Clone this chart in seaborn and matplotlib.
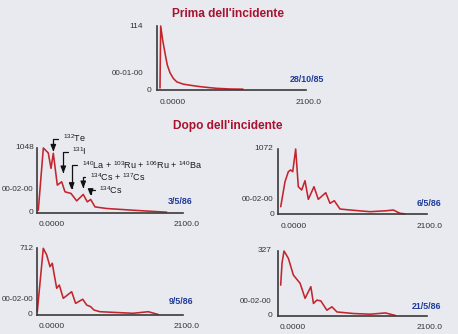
import matplotlib
matplotlib.use("Agg")
import matplotlib.pyplot as plt
import seaborn as sns
import pandas as pd

# ---- spectra (channel 0 .. 2100, counts) ----
before_x = [38, 48, 76, 109, 141, 180, 227, 275, 364, 463, 604, 746, 840, 1029, 1213]
before_y = [4, 114, 89, 66, 45, 31, 21, 15, 11, 9, 6.5, 4.6, 3.5, 2.3, 2]

may03_x = [23, 95, 166, 205, 238, 295, 358, 405, 491, 573, 667, 725, 773, 835, 1002, 1379, 1622, 1862]
may03_y = [37, 1048, 967, 717, 962, 445, 499, 336, 310, 189, 293, 173, 212, 91, 65, 37, 21, 5]

may06_x = [34, 95, 142, 175, 204, 246, 283, 331, 378, 425, 505, 566, 671, 732, 792, 873, 1014, 1298, 1534, 1627, 1721, 1790]
may06_y = [120, 533, 698, 726, 698, 1072, 450, 396, 549, 242, 450, 242, 351, 176, 219, 82, 66, 38, 54, 66, 12, 3]

may09_x = [11, 97, 146, 193, 226, 250, 289, 326, 383, 503, 560, 661, 718, 775, 822, 908, 1380, 1599, 1742]
may09_y = [30, 712, 640, 514, 551, 443, 282, 317, 174, 245, 120, 164, 102, 84, 48, 30, 13, 30, 0]

may21_x = [42, 61, 89, 150, 221, 316, 386, 467, 504, 552, 608, 693, 764, 835, 1070, 1306, 1518, 1589, 1660]
may21_y = [154, 266, 327, 290, 205, 163, 87, 146, 61, 78, 74, 27, 44, 18, 10, 6.6, 13, 6.6, 0]

peak_counts = [114, 1048, 1072, 712, 327]
dates = ["28/10/85", "3/5/86", "6/5/86", "9/5/86", "21/5/86"]
time_labels = ["00-01-00", "00-02-00", "00-02-00", "00-02-00", "00-02-00"]
time_label_levels = [29, 377, 242, 156, 73.5]
x_range = [0.0, 2100.0]
x_tick_labels = ["0.0000", "2100.0"]

# nuclide annotations on the 3/5/86 spectrum: label, arrow tip (x, y), label (x, y)
nuclides = [r"$^{132}$Te", r"$^{131}$I",
            r"$^{140}$La + $^{103}$Ru + $^{106}$Ru + $^{140}$Ba",
            r"$^{134}$Cs + $^{137}$Cs", r"$^{134}$Cs"]
nuclide_tip_x = [238, 381, 501, 667, 773]
nuclide_tip_y = [988, 637, 366, 393, 268]
nuclide_label_x = [370, 510, 650, 765, 898]
nuclide_label_y = [1200, 990, 775, 575, 370]

titles = ["Prima dell'incidente", "Dopo dell'incidente"]

# ---- style ----
BG = "#e8eaf0"
RED = "#c4242c"
TITLE = "#a8122e"
BLUE = "#1f3a98"
AXIS = "#3a3a3a"
TEXT = "#333333"

sns.set_style("white")
plt.rcParams["font.family"] = ["Liberation Sans", "DejaVu Sans"]
plt.rcParams["mathtext.fontset"] = "custom"
plt.rcParams["mathtext.rm"] = "Liberation Sans"
plt.rcParams["mathtext.it"] = "Liberation Sans:italic"
plt.rcParams["mathtext.bf"] = "Liberation Sans:bold"

W, H = 458, 334
fig = plt.figure(figsize=(W / 100, H / 100), dpi=100, facecolor=BG)

# axes boxes in pixels: left, right, bottom, top (y from top of figure)
boxes = [
    (157.3, 305.7, 90.3, 26),
    (36.7, 183.3, 212.5, 148),
    (278.3, 426.7, 214, 149),
    (36.5, 183.3, 314.5, 248.3),
    (277.7, 426.7, 315.5, 251),
]
date_pos = [(324, 80), (193, 201), (441, 203), (193, 301), (441, 306.5)]
ylab_gap = [(14, 6), (3, 3), (5, 4), (3, 4), (6, 5)]
inner_ticks = [[1600], [1620], [990, 1605], [1600], [1595]]

series = [(before_x, before_y), (may03_x, may03_y), (may06_x, may06_y),
          (may09_x, may09_y), (may21_x, may21_y)]

axes = []
for i, ((xs, ys), (L, R, B, T)) in enumerate(zip(series, boxes)):
    ax = fig.add_axes([L / W, 1 - B / H, (R - L) / W, (B - T) / H])
    ax.set_facecolor("none")
    df = pd.DataFrame({"canale": xs, "conteggi": ys})
    sns.lineplot(data=df, x="canale", y="conteggi", ax=ax, color=RED,
                 lw=1.15, estimator=None, sort=False, clip_on=False)
    ax.set_xlim(x_range)
    ax.set_ylim(0, peak_counts[i])
    ax.set_xlabel("")
    ax.set_ylabel("")
    for s in ("top", "right"):
        ax.spines[s].set_visible(False)
    for s in ("left", "bottom"):
        ax.spines[s].set_color(AXIS)
        ax.spines[s].set_linewidth(1.2)
    ax.set_yticks([])
    ax.set_xticks(inner_ticks[i])
    ax.set_xticklabels([])
    ax.tick_params(axis="x", which="major", direction="inout", length=8.5,
                   width=1.0, color=AXIS)
    ax.set_xticks([x_range[1]], minor=True)
    ax.tick_params(axis="x", which="minor", direction="inout", length=4.5,
                   width=1.0, color=AXIS)

    # y labels: top count, time stamp, zero
    g_hi, g_zero = ylab_gap[i]
    for val, lab, gap, fs in ((peak_counts[i], str(peak_counts[i]), g_hi, 6),
                              (time_label_levels[i], time_labels[i], g_hi, 5.8),
                              (0, "0", g_zero, 6)):
        ax.annotate(lab, xy=(0, val), xycoords=("axes fraction", "data"),
                    xytext=(-gap, 0), textcoords="offset pixels",
                    ha="right", va="center", fontsize=fs, color=TEXT,
                    annotation_clip=False)
    # x labels
    ax.annotate(x_tick_labels[0], xy=(0, 0), xycoords="axes fraction",
                xytext=(2, -12), textcoords="offset pixels",
                ha="left", va="center", fontsize=6, color=TEXT)
    ax.annotate(x_tick_labels[1], xy=(1, 0), xycoords="axes fraction",
                xytext=(3, -12), textcoords="offset pixels",
                ha="center", va="center", fontsize=6, color=TEXT)
    # date
    dx, dy = date_pos[i]
    fig.text(dx / W, 1 - dy / H, dates[i], ha="right", va="center",
             fontsize=6.4, fontweight="bold", color=BLUE)
    axes.append(ax)

# nuclide arrows
ax = axes[1]
for lab, tx, ty, lx, ly in zip(nuclides, nuclide_tip_x, nuclide_tip_y,
                               nuclide_label_x, nuclide_label_y):
    ax.annotate(lab, xy=(tx, ty), xytext=(lx, ly), ha="left", va="center",
                fontsize=6.5, color="#1a1a1a", annotation_clip=False,
                arrowprops=dict(arrowstyle="-|>,head_length=0.5,head_width=0.2",
                                connectionstyle="angle,angleA=180,angleB=90,rad=0",
                                color="#111111", lw=0.9, shrinkA=1, shrinkB=0,
                                mutation_scale=8))

fig.text(228.5 / W, 1 - 14 / H, titles[0], ha="center", va="center",
         fontsize=8.6, fontweight="bold", color=TITLE)
fig.text(227.5 / W, 1 - 126 / H, titles[1], ha="center", va="center",
         fontsize=8.6, fontweight="bold", color=TITLE)

fig.savefig("out.png", dpi=100, facecolor=BG)
